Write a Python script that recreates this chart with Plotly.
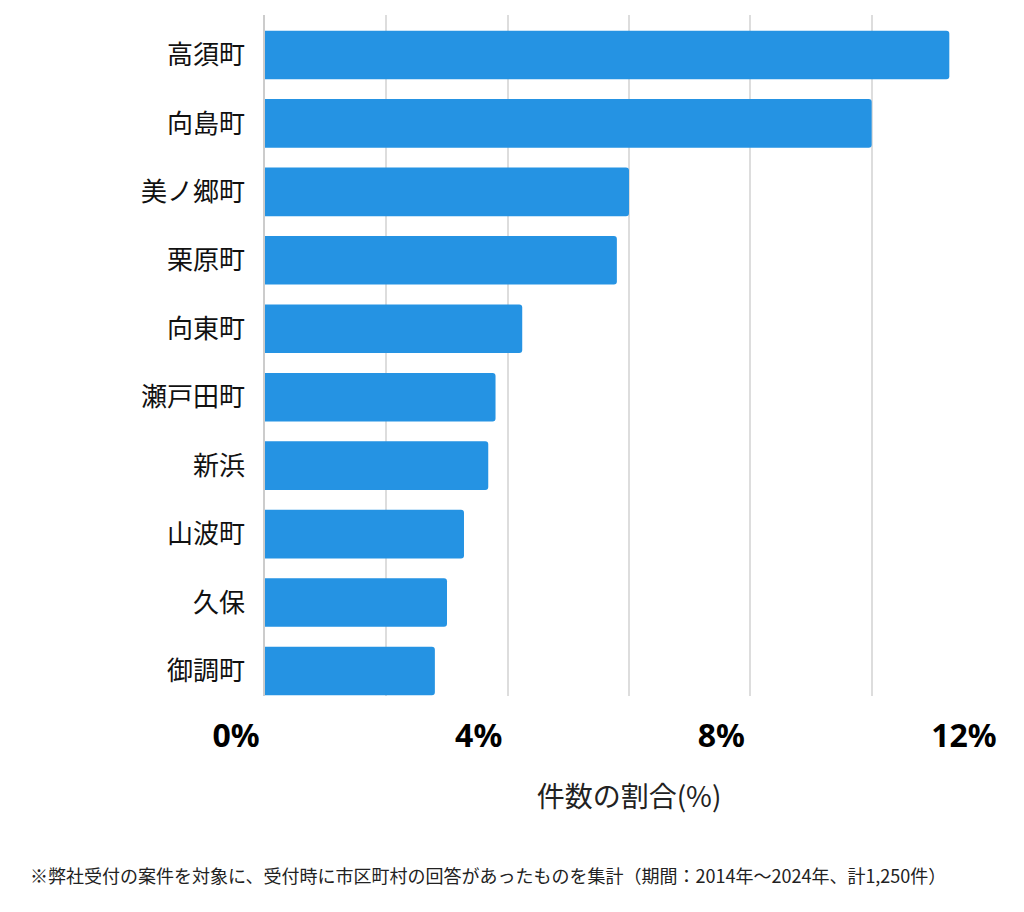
import plotly.graph_objects as go

categories = ["高須町", "向島町", "美ノ郷町", "栗原町", "向東町", "瀬戸田町", "新浜", "山波町", "久保", "御調町"]
shares = [11.28, 10.0, 6.0, 5.8, 4.24, 3.8, 3.68, 3.28, 3.0, 2.8]
tick_vals = [0, 4, 8, 12]
tick_text = ["0%", "4%", "8%", "12%"]
x_title = "件数の割合(%)"
footnote = "※弊社受付の案件を対象に、受付時に市区町村の回答があったものを集計（期間：2014年〜2024年、計1,250件）"

fig = go.Figure(go.Bar(
    x=shares, y=categories, orientation="h",
    marker=dict(color="#2593E3", line=dict(width=0)),
    width=0.71,
    hoverinfo="skip",
))

fig.update_layout(
    width=1024, height=912,
    margin=dict(l=257, r=39, t=7, b=224),
    paper_bgcolor="white", plot_bgcolor="white",
    barcornerradius=3,
    showlegend=False,
    font=dict(family="Noto Sans CJK JP", color="#222"),
)

fig.update_xaxes(
    range=[0, 12], tickvals=tick_vals, ticktext=tick_text,
    showgrid=True, gridcolor="#dddddd", gridwidth=1.5,
    minor=dict(dtick=2, tick0=0, showgrid=True, gridcolor="#dddddd", gridwidth=1.5),
    zeroline=False, showline=False, ticks="",
    tickfont=dict(family="Noto Sans", size=32, color="#000", weight="bold"),
    ticklabelshift=-29, ticklabelstandoff=18,
    title=dict(text=x_title, font=dict(family="Noto Sans CJK JP", size=28, color="#222"), standoff=32),
)

fig.update_yaxes(
    type="category", categoryorder="array", categoryarray=categories,
    range=[9.365, -0.584],
    showgrid=False, zeroline=False, showline=True, linecolor="#cccccc", linewidth=1.5,
    ticks="", ticklabelstandoff=13,
    tickfont=dict(family="Noto Sans CJK JP", size=26, color="#111"),
)

fig.add_annotation(
    text=footnote, xref="paper", yref="paper",
    x=-0.3255, y=-0.2635, xanchor="left", yanchor="middle",
    showarrow=False, font=dict(family="Noto Sans CJK JP", size=18, color="#222"),
)

fig.write_html("out.html")
